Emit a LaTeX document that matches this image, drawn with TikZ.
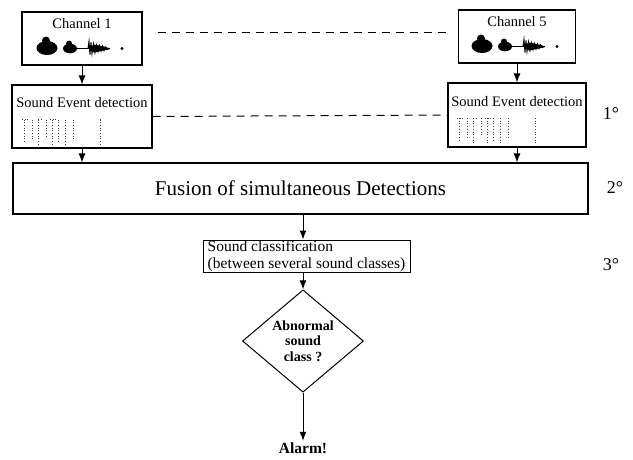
\documentclass[tikz,border=0pt]{standalone}
\usepackage{fontspec}
\setmainfont{Liberation Serif}
\usetikzlibrary{shapes.geometric, arrows.meta}

% small waveform picture drawn inside a channel box
\newcommand{\wavepic}{%
  \fill (-35,9.5) ellipse (10.5pt and 7pt);
  \fill (-36,2) circle (4pt);
  \fill (-12,10) ellipse (7pt and 4.8pt);
  \fill (-13,5) circle (3pt);
  \draw[line width=0.9pt] (-6,10) -- (6,10);
  \draw[line width=1pt] (6,10) -- (7,3) -- (8,16) -- (9,4) -- (10,15) -- (11.5,5.5) -- (13,14)
    -- (14.5,6.5) -- (16,13) -- (17.5,7) -- (19,12.5) -- (20.5,7.5) -- (22,12) -- (23.5,8.5) -- (25,11) -- (28,10);
  \fill (6,10) -- (12,6) -- (24,8.5) -- (28,10) -- (24,11.5) -- (12,14) -- cycle;
  \fill (40,10) circle (1.6pt);
}

% dotted segment marks inside a detection box
\newcommand{\segpic}{%
  \foreach \x/\l in {-58/24,-50/20,-44/26,-36/18,-30/26,-24/22,-17/26,-9/20,18/26} {
    \draw[line width=0.7pt, dotted, black!75] (\x,3) -- (\x,3+\l);
  }
  \foreach \a/\b in {-60/-54,-44/-40,-32/-24,18/20} {
    \draw[line width=0.7pt, dotted, black!75] (\a,3) -- (\b,3);
  }
}

\begin{document}
\begin{tikzpicture}[x=1pt, y=-1pt]
\tikzstyle{box}=[rectangle, draw, line width=1.1pt, inner sep=0pt]
\tikzstyle{decision}=[diamond, draw, line width=1pt, inner sep=0pt, minimum width=121pt, minimum height=84pt,
  align=center, font=\fontsize{14}{15.5}\selectfont\bfseries]
\tikzstyle{txt}=[inner sep=0pt, font=\fontsize{14.5}{16}\selectfont]
\tikzstyle{level}=[inner sep=0pt, font=\fontsize{18}{20}\selectfont]
\tikzstyle{arr}=[-{Latex[length=9pt,width=7pt]}, line width=1pt]
\tikzstyle{link}=[dash pattern=on 8pt off 6pt, line width=1pt]

\useasboundingbox (0,0) rectangle (633,459);

% channels
\node[box, minimum width=120pt, minimum height=53pt] (ch1) at (82,38.5) {};
\node[box, minimum width=117pt, minimum height=53pt] (ch5) at (517,36.5) {};
\node[txt] (ch1t) at (82,24) {Channel 1};
\node[txt] (ch5t) at (517,22) {Channel 5};
\begin{scope}[shift={(ch1.center)}] \wavepic \end{scope}
\begin{scope}[shift={(ch5.center)}] \wavepic \end{scope}

% detection
\node[box, minimum width=140pt, minimum height=63pt] (sed1) at (82,116.5) {};
\node[box, minimum width=138pt, minimum height=64pt] (sed5) at (517,115) {};
\node[txt] (sed1t) at (82,103) {Sound Event detection};
\node[txt] (sed5t) at (517,101.5) {Sound Event detection};
\begin{scope}[shift={(sed1.center)}] \segpic \end{scope}
\begin{scope}[shift={(sed5.center)}] \segpic \end{scope}

% fusion, classification, decision
\node[box, minimum width=575pt, minimum height=51pt, font=\fontsize{21}{23}\selectfont] (fus) at (300.5,188.5) {Fusion of simultaneous Detections};
\node[box, line width=1pt, minimum width=207pt, minimum height=32pt, align=left, font=\fontsize{15.5}{16.5}\selectfont] (cls) at (306.5,256)
  {Sound classification\\(between several sound classes)};
\node[decision] (dec) at (303,341) {Abnormal\\sound\\class ?};
\node[inner sep=0pt, font=\fontsize{15.5}{17}\selectfont\bfseries] (alarm) at (303,448.5) {Alarm!};

% levels
\node[level] (l1) at (611,114) {1°};
\node[level] (l2) at (615,188) {2°};
\node[level] (l3) at (611,265) {3°};

% connectors
\draw[link] ([xshift=15pt, yshift=6.5pt]ch1.east) -- ([xshift=-8pt, yshift=4.5pt]ch5.west);
\draw[link] (sed1.east) -- (sed5.west);
\draw[arr] (ch1.south) -- (sed1.north);
\draw[arr] (ch5.south) -- (sed5.north);
\draw[arr] (sed1.south) -- (sed1.south |- fus.north);
\draw[arr] (sed5.south) -- (sed5.south |- fus.north);
\draw[arr] (fus.south -| dec.north) -- (dec.north |- cls.north);
\draw[arr] (dec.north |- cls.south) -- (dec.north);
\draw[arr] (dec.south) -- ([yshift=2pt]alarm.north);

\end{tikzpicture}
\end{document}
